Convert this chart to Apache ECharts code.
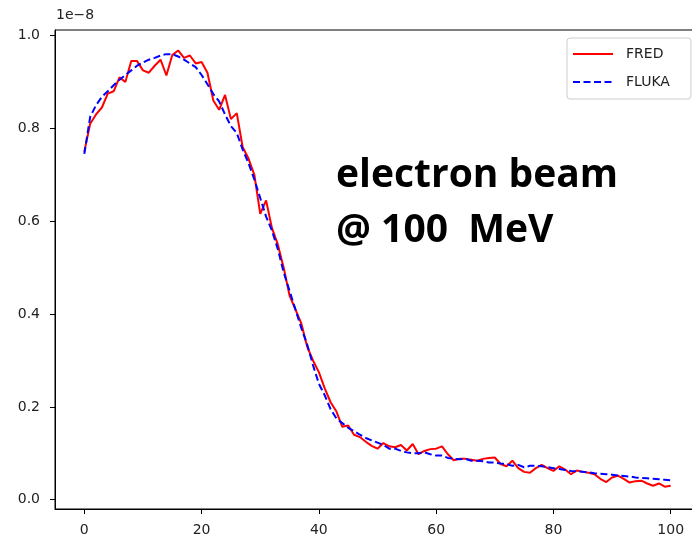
<!DOCTYPE html>
<html>
<head>
<meta charset="utf-8">
<script src="https://cdn.jsdelivr.net/npm/echarts@6/dist/echarts.min.js"></script>
<style>html,body{margin:0;padding:0;background:#fff;}#c{width:692px;height:538px;}</style>
</head>
<body>
<div id="c"></div>
<script>
// depth positions 0..100
const depth = Array.from({length: 101}, (_, i) => i);
// values in units of 1e-8
const fred = [0.75,0.81,0.83,0.845,0.875,0.88,0.91,0.90,0.945,0.945,
  0.925,0.92,0.935,0.948,0.914,0.958,0.968,0.952,0.957,0.94,
  0.943,0.92,0.86,0.84,0.872,0.82,0.833,0.76,0.735,0.70,
  0.616,0.645,0.585,0.55,0.50,0.44,0.41,0.38,0.33,0.30,
  0.275,0.24,0.21,0.19,0.157,0.16,0.14,0.135,0.125,0.116,
  0.11,0.122,0.115,0.113,0.118,0.106,0.12,0.098,0.105,0.109,
  0.11,0.115,0.098,0.085,0.088,0.088,0.086,0.084,0.088,0.09,
  0.091,0.077,0.072,0.084,0.068,0.06,0.058,0.068,0.075,0.068,
  0.062,0.072,0.065,0.055,0.063,0.06,0.058,0.055,0.045,0.038,
  0.048,0.052,0.045,0.037,0.04,0.041,0.035,0.03,0.035,0.028,0.03];
const fluka = [0.745,0.825,0.85,0.868,0.88,0.893,0.905,0.915,0.925,0.935,
  0.942,0.948,0.952,0.957,0.96,0.96,0.955,0.948,0.94,0.932,
  0.915,0.895,0.874,0.858,0.83,0.805,0.79,0.755,0.725,0.69,
  0.65,0.61,0.58,0.54,0.49,0.45,0.41,0.37,0.335,0.29,
  0.25,0.225,0.195,0.175,0.165,0.155,0.148,0.14,0.133,0.128,
  0.123,0.118,0.11,0.11,0.105,0.102,0.10,0.10,0.102,0.098,
  0.095,0.095,0.09,0.088,0.087,0.088,0.084,0.084,0.083,0.08,
  0.08,0.078,0.077,0.073,0.075,0.07,0.073,0.073,0.072,0.07,
  0.068,0.066,0.064,0.062,0.061,0.06,0.059,0.057,0.056,0.055,
  0.054,0.052,0.051,0.05,0.048,0.047,0.046,0.045,0.044,0.043,0.042];
const xTicks = [0, 20, 40, 60, 80, 100];
const yTicks = [0.0, 0.2, 0.4, 0.6, 0.8, 1.0];
const seriesNames = ['FRED', 'FLUKA'];
const annotation = 'electron beam\n@ 100  MeV';
const offsetText = '1e\u22128';

const chart = echarts.init(document.getElementById('c'), null, {renderer: 'canvas'});
const axisFont = {fontFamily: 'DejaVu Sans', fontSize: 14, color: '#222'};
chart.setOption({
  animation: false,
  backgroundColor: '#fff',
  grid: {left: 55, top: 30, width: 645, height: 479, show: true, borderColor: '#000', borderWidth: 1,
         containLabel: false, outerBoundsMode: 'none'},
  xAxis: {
    type: 'value', min: -5, max: 105,
    axisLine: {show: true, onZero: false, lineStyle: {color: '#000', width: 1}},
    axisTick: {show: true, length: 5, lineStyle: {color: '#000'}, customValues: xTicks},
    axisLabel: Object.assign({margin: 14, customValues: xTicks, formatter: v => String(v)}, axisFont),
    splitLine: {show: false}
  },
  yAxis: {
    type: 'value', min: -0.02, max: 1.012,
    axisLine: {show: true, onZero: false, lineStyle: {color: '#000', width: 1}},
    axisTick: {show: true, length: 5, lineStyle: {color: '#000'}, customValues: yTicks},
    axisLabel: Object.assign({margin: 15, customValues: yTicks, formatter: v => v.toFixed(1)}, axisFont),
    splitLine: {show: false}
  },
  legend: {
    orient: 'vertical', left: 567, top: 38,
    padding: [9, 21, 10, 5],
    itemWidth: 40, itemHeight: 14, itemGap: 14,
    itemStyle: {opacity: 0},
    backgroundColor: 'rgba(255,255,255,0.8)',
    borderColor: '#ccc', borderWidth: 1, borderRadius: 3,
    textStyle: {fontFamily: 'DejaVu Sans', fontSize: 14, color: '#222', padding: [0, 0, 0, 8]},
    data: seriesNames
  },
  graphic: [
    {type: 'text', left: 56, top: 8, style: {text: offsetText, font: '14px "DejaVu Sans"', fill: '#222'}},
    {type: 'text', left: 336, top: 148, style: {text: annotation, font: 'bold 39px "Open Sans"', fill: '#000', lineHeight: 55}}
  ],
  series: [
    {name: seriesNames[0], type: 'line', symbol: 'none', data: depth.map((x, i) => [x, fred[i]]),
     lineStyle: {color: '#ff0000', width: 2}, itemStyle: {color: '#ff0000'}, z: 2},
    {name: seriesNames[1], type: 'line', symbol: 'none', data: depth.map((x, i) => [x, fluka[i]]),
     lineStyle: {color: '#0000ff', width: 2, type: [7, 3.5]}, itemStyle: {color: '#0000ff'}, z: 3}
  ]
});
</script>
</body>
</html>
